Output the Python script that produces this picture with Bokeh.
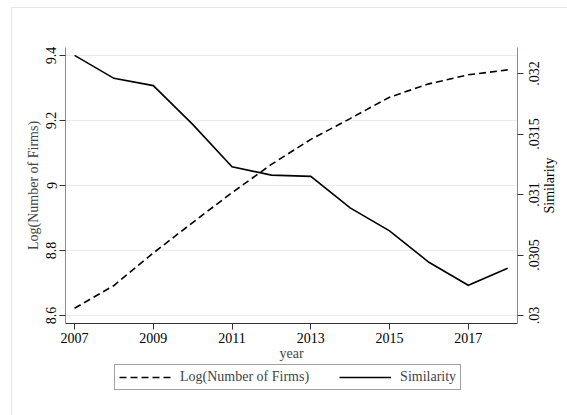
import math
from bokeh.plotting import figure
from bokeh.layouts import column, row
from bokeh.models import (Range1d, LinearAxis, FixedTicker, CustomJSTickFormatter,
                          Legend, LegendItem, InlineStyleSheet)
from bokeh.core.properties import value
from bokeh.embed import file_html
from bokeh.resources import INLINE

years = [2007, 2008, 2009, 2010, 2011, 2012, 2013, 2014, 2015, 2016, 2017, 2018]
log_firms = [8.622, 8.692, 8.792, 8.886, 8.978, 9.065, 9.142, 9.206, 9.272, 9.313, 9.341, 9.356]
similarity = [0.03215, 0.03196, 0.03190, 0.03158, 0.03123, 0.03116, 0.03115,
              0.03089, 0.03070, 0.03044, 0.03025, 0.03039]

x_ticks = [2007, 2009, 2011, 2013, 2015, 2017]
left_ticks = [8.6, 8.8, 9.0, 9.2, 9.4]
left_labels = ["8.6", "8.8", "9", "9.2", "9.4"]
right_ticks = [0.03, 0.0305, 0.031, 0.0315, 0.032]
right_labels = [".03", ".0305", ".031", ".0315", ".032"]

FONT = "Liberation Serif"
FS = "14px"

sim_range = Range1d(0.029934, 0.032215)

p = figure(frame_width=452, frame_height=276, output_backend="svg", toolbar_location=None,
           x_range=Range1d(2006.77, 2018.25), y_range=Range1d(8.575, 9.425),
           min_border_left=65, min_border_right=8, min_border_top=47, min_border_bottom=40)
p.extra_y_ranges = {"sim": sim_range}
p.outline_line_color = None
p.background_fill_color = "white"
p.border_fill_color = None

fmt_code = """
const i = tvals.findIndex(t => Math.abs(t - tick) < 1e-9);
return i >= 0 ? tlabels[i] : '';
"""

# x axis
xa = p.xaxis[0]
xa.ticker = FixedTicker(ticks=x_ticks)
xa.axis_label = "year"
xa.minor_tick_line_color = None
xa.major_tick_out = 6
xa.major_tick_in = 0
xa.axis_line_color = "#333333"
xa.major_tick_line_color = "#333333"
xa.major_label_text_font = FONT
xa.major_label_text_font_size = FS
xa.major_label_text_color = "black"
xa.major_label_standoff = 3
xa.axis_label_text_font = FONT
xa.axis_label_text_font_size = FS
xa.axis_label_text_font_style = "normal"
xa.axis_label_standoff = 0

# left axis
ya = p.yaxis[0]
ya.ticker = FixedTicker(ticks=left_ticks)
ya.formatter = CustomJSTickFormatter(args=dict(tvals=left_ticks, tlabels=left_labels), code=fmt_code)
ya.axis_label = "Log(Number of Firms)"
ya.minor_tick_line_color = None
ya.major_tick_out = 6
ya.major_tick_in = 0
ya.axis_line_color = "#8c8c8c"
ya.major_tick_line_color = "#333333"
ya.major_label_orientation = "vertical"
ya.major_label_text_font = FONT
ya.major_label_text_font_size = FS
ya.major_label_text_color = "black"
ya.major_label_standoff = 3
ya.axis_label_text_font = FONT
ya.axis_label_text_font_size = FS
ya.axis_label_text_font_style = "normal"
ya.axis_label_standoff = 3

# right axis: line and ticks only (labels drawn in the strip to read bottom-to-top)
ra = LinearAxis(y_range_name="sim", ticker=FixedTicker(ticks=right_ticks),
                formatter=CustomJSTickFormatter(code="return '';"))
ra.minor_tick_line_color = None
ra.major_tick_out = 6
ra.major_tick_in = 0
ra.axis_line_color = "#8c8c8c"
ra.major_tick_line_color = "#333333"
ra.major_label_text_font_size = "0px"
ra.major_label_standoff = 0
p.add_layout(ra, "right")

p.xgrid.grid_line_color = None
p.ygrid.ticker = FixedTicker(ticks=left_ticks)
p.ygrid.grid_line_color = "#e6eff0"
p.ygrid.grid_line_width = 1

DASH = "7 4"
LW = 1.6
p.line(years, log_firms, line_color="black", line_width=LW, line_dash=DASH)
p.line(years, similarity, line_color="black", line_width=LW, y_range_name="sim", line_join="miter")

# right strip with rotated tick labels and axis title
s = figure(frame_width=42, frame_height=276, output_backend="svg", toolbar_location=None,
           x_range=Range1d(0, 42), y_range=sim_range, x_axis_type=None, y_axis_type=None,
           min_border_left=0, min_border_right=0, min_border_top=47, min_border_bottom=40)
s.outline_line_color = None
s.border_fill_color = None
s.background_fill_color = None
s.grid.visible = False
s.text(x=[8] * len(right_ticks), y=right_ticks, text=right_labels, angle=math.pi / 2,
       text_align="center", text_baseline="middle", text_font=value(FONT),
       text_font_size=value(FS), text_color="black")
s.text(x=[24], y=[(sim_range.start + sim_range.end) / 2], text=["Similarity"], angle=math.pi / 2,
       text_align="center", text_baseline="middle", text_font=value(FONT),
       text_font_size=value(FS), text_color="black")

# legend strip (series drawn out of view; only their legend samples show)
lg = figure(width=567, height=52, output_backend="svg", toolbar_location=None,
            x_range=Range1d(0, 1), y_range=Range1d(0, 1), x_axis_type=None, y_axis_type=None,
            min_border=0)
lg.outline_line_color = None
lg.border_fill_color = None
lg.background_fill_color = None
lg.grid.visible = False
d1 = lg.line(years, log_firms, line_color="black", line_width=LW, line_dash=DASH)
d2 = lg.line(years, similarity, line_color="black", line_width=LW)
legend = Legend(items=[LegendItem(label="Log(Number of Firms)", renderers=[d1]),
                       LegendItem(label="Similarity", renderers=[d2])],
                orientation="horizontal", location=(114, 25),
                glyph_width=52, glyph_height=14, label_height=14, label_standoff=9, spacing=30,
                padding=4, margin=0,
                label_text_font=FONT, label_text_font_size=FS,
                border_line_color="#444444", border_line_width=1,
                background_fill_alpha=1)
lg.add_layout(legend, "center")

frame_css = InlineStyleSheet(css="""
:host { overflow: hidden; }
:host::after {
  content: "";
  position: absolute;
  left: 11px; top: 7px; right: -20px; bottom: -20px;
  border-top: 1px solid #dfe9e9;
  border-left: 1px solid #dfe9e9;
  pointer-events: none;
}
""")

layout = column(row(p, s, spacing=0), lg, spacing=0, stylesheets=[frame_css])
open("out.html", "w").write(file_html(layout, INLINE))
